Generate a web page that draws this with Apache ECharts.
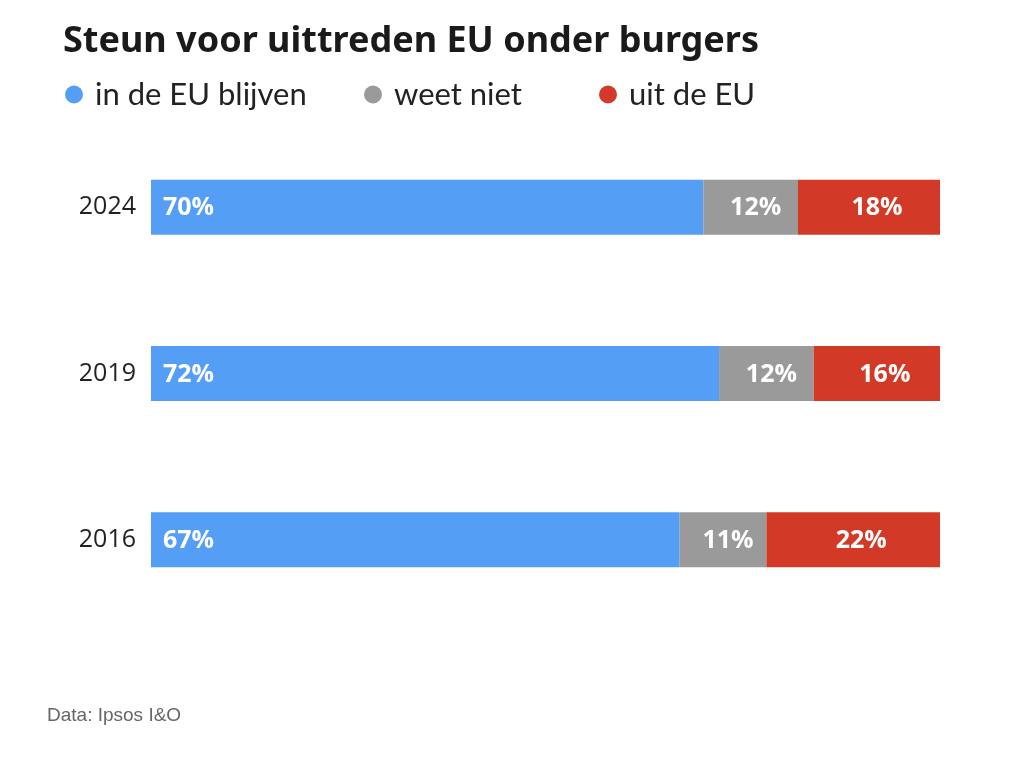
<!DOCTYPE html>
<html><head><meta charset="utf-8">
<script src="https://cdn.jsdelivr.net/npm/echarts@6/dist/echarts.min.js"></script>
<style>html,body{margin:0;padding:0;background:#fff}#c{width:1011px;height:762px}</style>
</head><body><div id="c"></div>
<script>
const years = ['2024', '2019', '2016'];
const seriesNames = ['in de EU blijven', 'weet niet', 'uit de EU'];
const blijven = [70, 72, 67];
const weetNiet = [12, 12, 11];
const uit = [18, 16, 22];
const colors = ['#559ef5', '#9a9a9a', '#d23a27'];

const chart = echarts.init(document.getElementById('c'));
const lbl = (pos, off) => ({
  show: true, position: pos, offset: off, color: '#fff', fontWeight: 'bold',
  fontFamily: 'Open Sans', fontSize: 25, formatter: p => p.value + '%'
});
const legendBase = {
  top: 74, icon: 'circle', itemWidth: 18, itemHeight: 18, itemGap: 10,
  textStyle: { fontFamily: 'Lato', fontSize: 31, color: '#222', padding: [0, 0, 0, 7] }, selectedMode: false
};
chart.setOption({
  animation: false,
  title: {
    text: 'Steun voor uittreden EU onder burgers', left: 58, top: 19,
    textStyle: { fontFamily: 'Noto Sans', fontWeight: 'bold', fontSize: 36, color: '#1a1a1a' }
  },
  legend: [
    Object.assign({}, legendBase, { left: 60, data: [seriesNames[0]] }),
    Object.assign({}, legendBase, { left: 359, data: [seriesNames[1]] }),
    Object.assign({}, legendBase, { left: 594, data: [seriesNames[2]] })
  ],
  graphic: [{
    type: 'text', left: 47, top: 706,
    style: { text: 'Data: Ipsos I&O', fill: '#666', font: '19px "Liberation Sans", Arial, sans-serif' }
  }],
  grid: { left: 151, right: 71, top: 124, bottom: 139, containLabel: false },
  xAxis: { type: 'value', min: 0, max: 100, show: false },
  yAxis: {
    type: 'category', data: years, inverse: true,
    axisLine: { show: false }, axisTick: { show: false },
    axisLabel: { fontFamily: 'Open Sans', fontSize: 25, color: '#222', margin: 15 }
  },
  series: [
    { name: seriesNames[0], type: 'bar', stack: 't', data: blijven, barWidth: 55,
      itemStyle: { color: colors[0] }, label: lbl('insideLeft', [7, 1]) },
    { name: seriesNames[1], type: 'bar', stack: 't', data: weetNiet, barWidth: 55,
      itemStyle: { color: colors[1] }, label: lbl('inside', [5, 1]) },
    { name: seriesNames[2], type: 'bar', stack: 't', data: uit, barWidth: 55,
      itemStyle: { color: colors[2] }, label: lbl('inside', [8, 1]) }
  ]
});
</script></body></html>
